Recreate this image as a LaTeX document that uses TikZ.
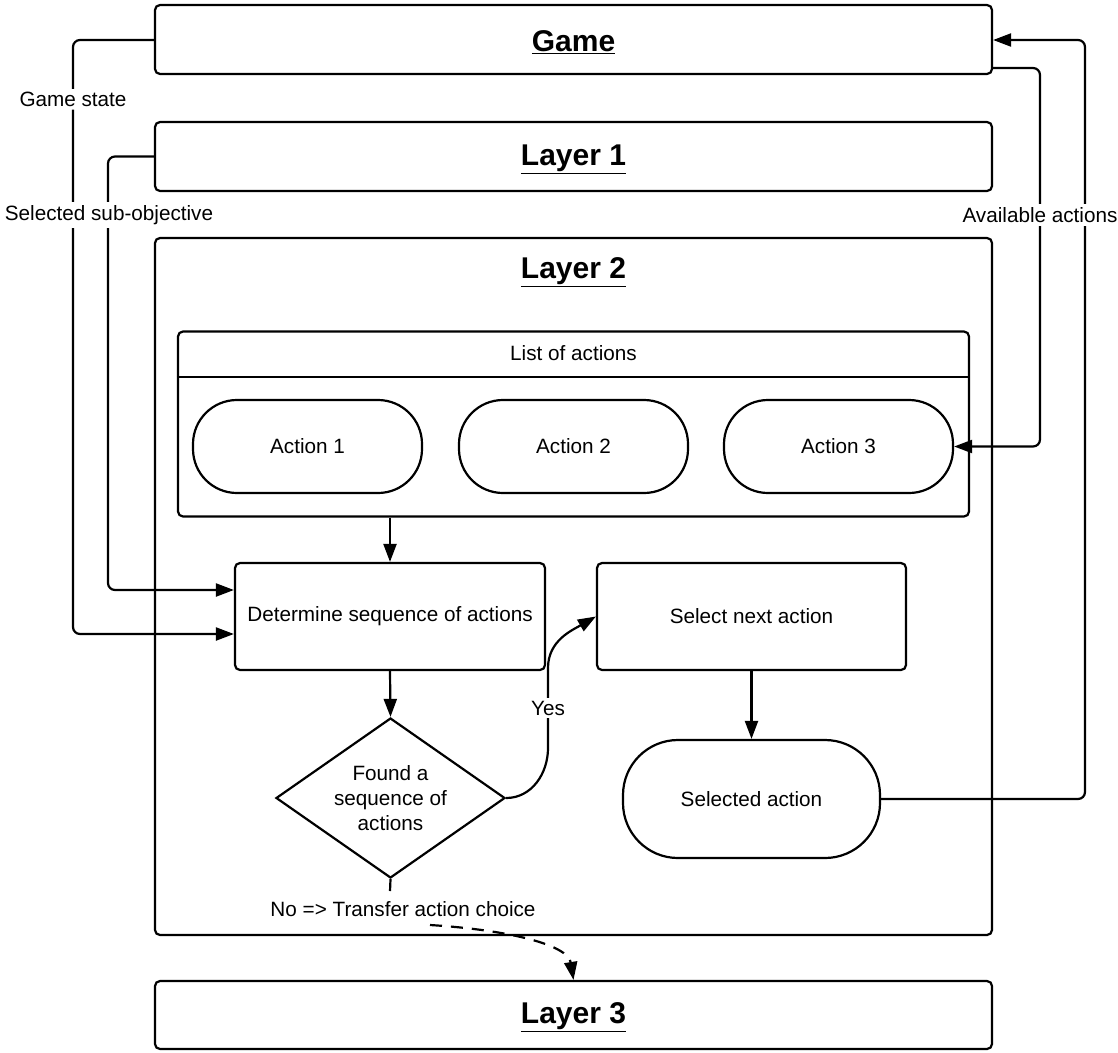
\documentclass[tikz,border=0pt]{standalone}
\usepackage{fontspec}
\setmainfont{Liberation Sans}
\usetikzlibrary{arrows.meta,shapes.geometric}
\begin{document}
\begin{tikzpicture}[x=1pt,y=-1pt,
  line width=2.2pt,
  >={Triangle[length=18pt,width=13pt]},
  every node/.style={font=\fontsize{20.7}{25}\selectfont, inner sep=0pt},
  layerbox/.style={draw, fill=white, rounded corners=5pt, minimum width=837pt},
  titletext/.style={font=\fontsize{30}{34}\selectfont\bfseries},
  procbox/.style={draw, fill=white, rounded corners=5pt, minimum width=310pt, minimum height=107pt},
  pill/.style={draw, fill=white, rounded corners=44pt, minimum width=229pt, minimum height=93pt},
  decision/.style={draw, fill=white, diamond, aspect=1.43, minimum width=229pt, minimum height=160pt, align=center},
  flow/.style={->, rounded corners=7pt},
  lbl/.style={fill=white, inner sep=3pt},
]
\useasboundingbox (0,0) rectangle (1118,1052);

% layer frames
\node[layerbox, minimum height=69pt] (game) at (573.5,39.5) {};
\node[titletext] (gametitle) at (573.5,42) {\underline{Game}};
\node[layerbox, minimum height=69pt] (l1) at (573.5,156.5) {};
\node[titletext] (l1title) at (573.5,159) {\underline{Layer 1}};
\node[layerbox, minimum height=697pt] (l2) at (573.5,586.5) {};
\node[titletext] (l2title) at (573.5,272) {\underline{Layer 2}};
\node[layerbox, minimum height=68pt] (l3) at (573.5,1015) {};
\node[titletext] (l3title) at (573.5,1017) {\underline{Layer 3}};

% list of actions container
\node[draw, fill=white, rounded corners=5pt, minimum width=791pt, minimum height=185pt] (list) at (573.5,424) {};
\draw (list.west |- 0,377) -- (list.east |- 0,377);
\node (listtitle) at (573.5,353) {List of actions};
\node[pill] (a1) at (307.5,446.5) {Action 1};
\node[pill] (a2) at (573.5,446.5) {Action 2};
\node[pill] (a3) at (838.5,446.5) {Action 3};

% process steps
\node[procbox] (det) at (390,616.5) {Determine sequence of actions};
\node[procbox, minimum width=309pt] (sel) at (751.5,616.5) {Select next action};
\node[decision] (found) at (390.5,798) {Found a\\sequence of\\actions};
\node[draw, fill=white, rounded corners=55pt, minimum width=257pt, minimum height=118pt] (chosen) at (751.5,799) {Selected action};

% internal flow
\draw[->] (list.south -| det.north) -- (det.north);
\draw[->] (det.south) -- (found.north);
\draw[->] (sel.south) -- (chosen.north);
\draw[->] (found.east) to[out=0,in=-90] (548,748) -- node[lbl] {Yes} (548,668) to[out=90,in=210] (sel.west);

% inputs from the layers above
\draw[flow] (game.west |- 0,40) -- (73,40) -- node[lbl, pos=0.1] {Game state} (73,634) -- (det.west |- 0,634);
\draw[flow] (l1.west) -- (108,156.5) -- (108,590) -- (det.west |- 0,590);
\node[lbl] (sublbl) at (109,215) {Selected sub-objective};

% outputs to the game
\draw[flow] (chosen.east) -- (1085,799) -- (1085,40) -- (game.east |- 0,40);
\draw[flow] (game.east |- 0,68) -- (1040,68) -- (1040,446.5) -- (a3.east);
\node[lbl] (availlbl) at (1040,215) {Available actions};

% hand-over to layer 3
\node (nolbl) at (403,909) {No => Transfer action choice};
\draw (found.south) -- (390,891);
\coordinate (dashstart) at (430,925);
\draw[->, dash pattern=on 12pt off 9pt] (dashstart) .. controls (510,930) and (568,945) .. (l3.north);
\end{tikzpicture}
\end{document}
